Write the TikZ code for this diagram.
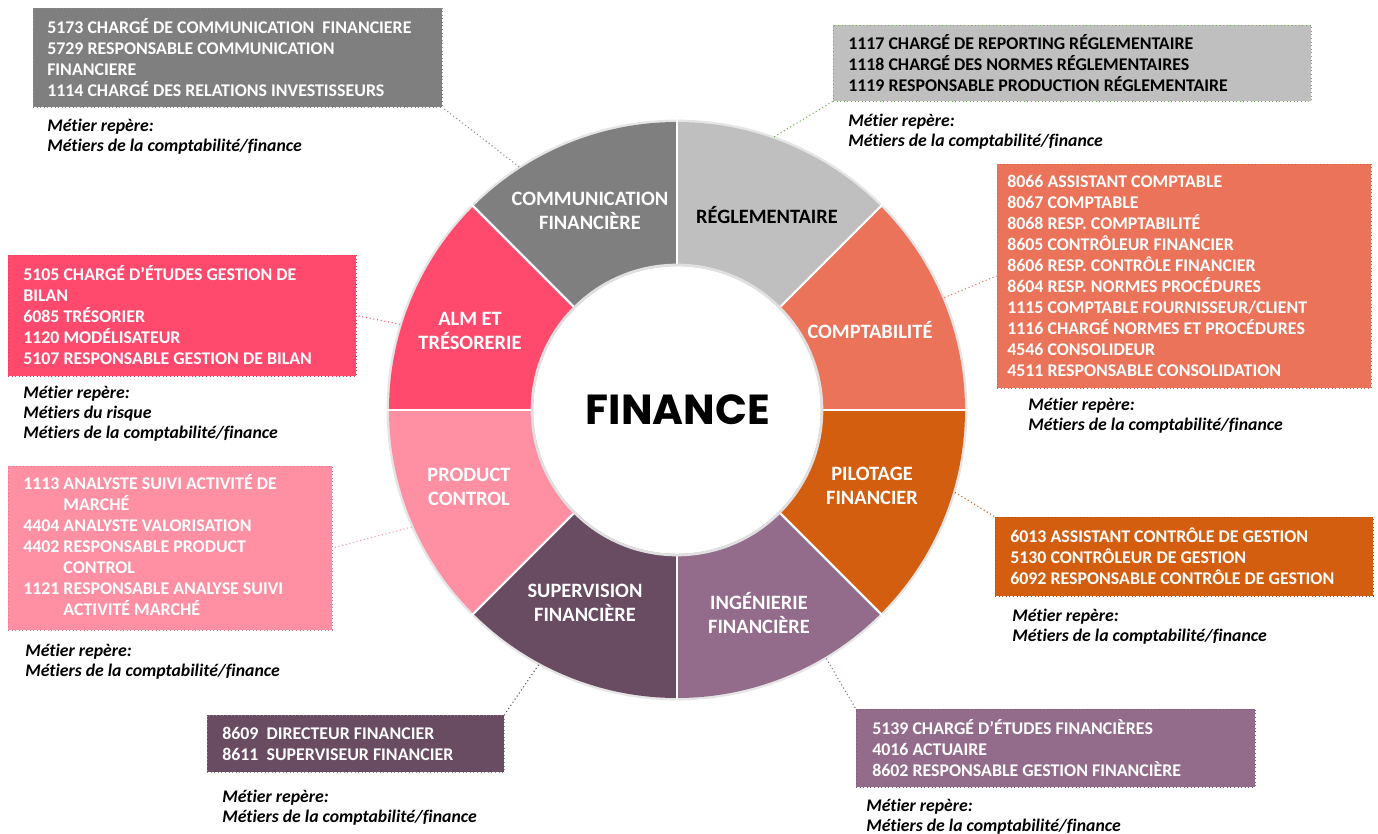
\documentclass[tikz,border=0pt]{standalone}
\usepackage{fontspec}
\setmainfont{Carlito}[Ligatures=NoCommon]
\newfontfamily\finfont{Poppins}
\usetikzlibrary{calc}
\definecolor{ccomm}{HTML}{7F7F7F}
\definecolor{cregl}{HTML}{BFBFBF}
\definecolor{ccompta}{HTML}{EB7359}
\definecolor{cpilot}{HTML}{D35E0F}
\definecolor{cinge}{HTML}{936B8B}
\definecolor{csuper}{HTML}{694B62}
\definecolor{cprod}{HTML}{FF8FA3}
\definecolor{calm}{HTML}{FF4A6D}
\definecolor{cgreen}{HTML}{6AAE4F}
\newcommand{\jobbox}[7]{%
  \node[jobbox, fill=#2, draw=#3, minimum width={(#6-#4)*0.75pt}, minimum height={(#7-#5)*0.75pt}]
    (#1) at ({(#4+#6)/2},{-(#5+#7)/2}) {};}
\begin{document}
\begin{tikzpicture}[x=0.75pt,y=0.75pt,
  jobbox/.style={rectangle, dotted, line width=0.7pt, inner sep=0pt},
  boxtext/.style={anchor=west, align=left, inner sep=0pt, text=white,
    font=\bfseries\fontsize{13.4}{15.75}\selectfont},
  metier/.style={anchor=north west, align=left, inner sep=0pt, text=black,
    font=\bfseries\itshape\fontsize{13.3}{15}\selectfont},
  seglabel/.style={align=center, inner sep=0pt, text=white,
    font=\bfseries\fontsize{15.3}{17.6}\selectfont},
  conn/.style={draw=#1, dotted, line width=0.8pt}]
\useasboundingbox (0,0) rectangle (1378,-834);
\fill[white] (0,0) rectangle (1378,-834);
\coordinate (c) at (677,-410);
% donut
\draw[black!10, line width=2pt] (c) circle[radius=289];
\foreach \a/\col in {0/ccompta,45/cregl,90/ccomm,135/calm,180/cprod,225/csuper,270/cinge,315/cpilot}{
  \fill[\col] ($(c)+(\a:288)$) arc[start angle=\a, end angle=\a+45, radius=288]
     -- ($(c)+(\a+45:144)$) arc[start angle=\a+45, end angle=\a, radius=144] -- cycle;
}
\foreach \a in {0,45,...,315}{
  \draw[white, line width=1.6pt] ($(c)+(\a:140)$) -- ($(c)+(\a:292)$);
}
\draw[black!12, line width=2pt] (c) circle[radius=145];
\node[circle, fill=white, minimum size={286*0.75pt}, inner sep=0pt] (centre) at (c) {};
\node[font=\finfont\bfseries\fontsize{31.5}{36}\selectfont, text=black] (fin) at (678,-410) {FINANCE};
% segment labels
\node[seglabel] (lcomm) at (590,-211) {COMMUNICATION\\FINANCIÈRE};
\node[seglabel, text=black] (lregl) at (767,-215) {RÉGLEMENTAIRE};
\node[seglabel] (lcompta) at (870,-330) {COMPTABILITÉ};
\node[seglabel] (lpilot) at (872,-486) {PILOTAGE\\FINANCIER};
\node[seglabel] (linge) at (759,-613) {INGÉNIERIE\\FINANCIÈRE};
\node[seglabel] (lsuper) at (585,-603) {SUPERVISION\\FINANCIÈRE};
\node[seglabel] (lprod) at (469,-487) {PRODUCT\\CONTROL};
\node[seglabel] (lalm) at (470,-331) {ALM ET\\TRÉSORERIE};
% anchor points on the ring
\coordinate (d1) at ($(c)+(123:290)$);
\coordinate (d2) at ($(c)+(70.4:290)$);
\coordinate (d3) at ($(c)+(22.8:290)$);
\coordinate (d4) at ($(c)+(162.8:290)$);
\coordinate (d5) at ($(c)+(203.8:290)$);
\coordinate (d6) at ($(c)+(-16.5:290)$);
\coordinate (d7) at ($(c)+(241.5:290)$);
\coordinate (d8) at ($(c)+(301:290)$);
% boxes
\jobbox{b1}{ccomm}{black!45}{33}{8}{442}{107}
\jobbox{b2}{cregl}{cgreen}{833}{25}{1311}{101}
\jobbox{b3}{ccompta}{ccompta!85!black}{997}{164}{1371}{388}
\jobbox{b4}{calm}{calm!85!black}{8}{255}{356}{376}
\jobbox{b5}{cprod}{cprod!85!black}{8}{466}{332}{630}
\jobbox{b6}{cpilot}{cpilot!85!black}{995}{517}{1373}{596}
\jobbox{b7}{csuper}{black!45}{207}{715}{504}{772}
\jobbox{b8}{cinge}{cinge!85!black}{856}{709}{1255}{787}
% connectors
\draw[conn=black!45] (d1) -- (b1.south east);
\draw[conn=cgreen] (d2) -- (b2.south west);
\draw[conn=ccompta] (d3) -- (b3.west);
\draw[conn=calm] (d4) -- (b4.east);
\draw[conn=cprod] (d5) -- (b5.east);
\draw[conn=cpilot] (d6) -- (b6.north west);
\draw[conn=csuper] (d7) -- (b7.north east);
\draw[conn=cinge] (d8) -- (b8.north west);
% box texts
\node[boxtext] (t1) at (47,-58) {5173 CHARGÉ DE COMMUNICATION\ \ FINANCIERE\\5729 RESPONSABLE COMMUNICATION\\FINANCIERE\\1114 CHARGÉ DES RELATIONS INVESTISSEURS};
\node[boxtext, text=black] (t2) at (848,-63) {1117 CHARGÉ DE REPORTING RÉGLEMENTAIRE\\1118 CHARGÉ DES NORMES RÉGLEMENTAIRES\\1119 RESPONSABLE PRODUCTION RÉGLEMENTAIRE};
\node[boxtext] (t3) at (1007,-276) {8066 ASSISTANT COMPTABLE\\8067 COMPTABLE\\8068 RESP. COMPTABILITÉ\\8605 CONTRÔLEUR FINANCIER\\8606 RESP. CONTRÔLE FINANCIER\\8604 RESP. NORMES PROCÉDURES\\1115 COMPTABLE FOURNISSEUR/CLIENT\\1116 CHARGÉ NORMES ET PROCÉDURES\\4546 CONSOLIDEUR\\4511 RESPONSABLE CONSOLIDATION};
\node[boxtext] (t4) at (23,-315) {5105 CHARGÉ D’ÉTUDES GESTION DE\\BILAN\\6085 TRÉSORIER\\1120 MODÉLISATEUR\\5107 RESPONSABLE GESTION DE BILAN};
\node[boxtext] (t5) at (23,-548) {\begin{tabular}{@{}l@{\hspace{3pt}}l@{}}1113 & ANALYSTE SUIVI ACTIVITÉ DE\\ & MARCHÉ\\4404 & ANALYSTE VALORISATION\\4402 & RESPONSABLE PRODUCT\\ & CONTROL\\1121 & RESPONSABLE ANALYSE SUIVI\\ & ACTIVITÉ MARCHÉ\end{tabular}};
\node[boxtext] (t6) at (1010,-556) {6013 ASSISTANT CONTRÔLE DE GESTION\\5130 CONTRÔLEUR DE GESTION\\6092 RESPONSABLE CONTRÔLE DE GESTION};
\node[boxtext] (t7) at (222,-744) {8609\ \ DIRECTEUR FINANCIER\\8611\ \ SUPERVISEUR FINANCIER};
\node[boxtext] (t8) at (872,-748) {5139 CHARGÉ D’ÉTUDES FINANCIÈRES\\4016 ACTUAIRE\\8602 RESPONSABLE GESTION FINANCIÈRE};
% metier notes
\node[metier] (m1) at (47,-119) {Métier repère:\\Métiers de la comptabilité/finance};
\node[metier] (m2) at (848,-114) {Métier repère:\\Métiers de la comptabilité/finance};
\node[metier] (m3) at (1028,-398) {Métier repère:\\Métiers de la comptabilité/finance};
\node[metier] (m4) at (23,-386) {Métier repère:\\Métiers du risque\\Métiers de la comptabilité/finance};
\node[metier] (m5) at (25,-644) {Métier repère:\\Métiers de la comptabilité/finance};
\node[metier] (m6) at (1012,-609) {Métier repère:\\Métiers de la comptabilité/finance};
\node[metier] (m7) at (222,-790) {Métier repère:\\Métiers de la comptabilité/finance};
\node[metier] (m8) at (866,-799) {Métier repère:\\Métiers de la comptabilité/finance};
\end{tikzpicture}
\end{document}
